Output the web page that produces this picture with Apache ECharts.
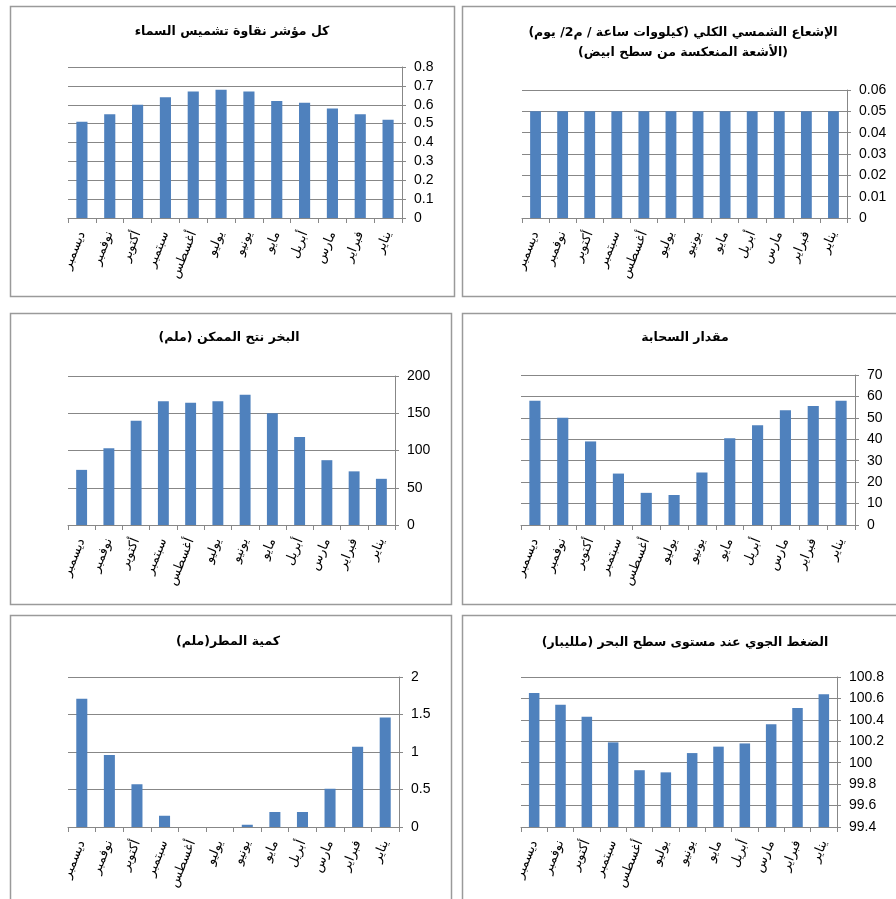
<!DOCTYPE html>
<html>
<head>
<meta charset="utf-8">
<script src="https://cdn.jsdelivr.net/npm/echarts@6/dist/echarts.min.js"></script>
<style>
  html, body { margin: 0; padding: 0; background: #ffffff; }
  #chart { width: 896px; height: 899px; }
</style>
</head>
<body>
<div id="chart" dir="rtl"></div>
<script>
// Months, January to December (drawn right-to-left)
const months = ['يناير', 'فبراير', 'مارس', 'أبريل', 'مايو', 'يونيو',
                'يوليو', 'أغسطس', 'سبتمبر', 'أكتوبر', 'نوفمبر', 'ديسمبر'];

// Monthly values, January to December
const skyClearness   = [0.52, 0.55, 0.58, 0.61, 0.62, 0.67, 0.68, 0.67, 0.64, 0.60, 0.55, 0.51];
const reflectedSolar = [0.05, 0.05, 0.05, 0.05, 0.05, 0.05, 0.05, 0.05, 0.05, 0.05, 0.05, 0.05];
const evapotranspiration = [62, 72, 87, 118, 150, 175, 166, 164, 166, 140, 103, 74];
const cloudCover     = [58, 55.5, 53.5, 46.5, 40.5, 24.5, 14, 15, 24, 39, 50, 58];
const rainfall       = [1.46, 1.07, 0.51, 0.2, 0.2, 0.03, 0, 0, 0.15, 0.57, 0.96, 1.71];
const seaPressure    = [100.64, 100.51, 100.36, 100.18, 100.15, 100.09, 99.91, 99.93, 100.19, 100.43, 100.54, 100.65];

// Chart titles
const titleSky = ['كل مؤشر نقاوة تشميس السماء'];
const titleSolar = ['الإشعاع الشمسي الكلي (كيلووات ساعة / م2/ يوم)', '(الأشعة المنعكسة من سطح ابيض)'];
const titleEvap = ['البخر نتح الممكن (ملم)'];
const titleCloud = ['مقدار السحابة'];
const titleRain = ['كمية المطر(ملم)'];
const titlePressure = ['الضغط الجوي عند مستوى سطح البحر (ملليبار)'];

// Value-axis ranges
const axisSky = { min: 0, max: 0.8, interval: 0.1 };
const axisSolar = { min: 0, max: 0.06, interval: 0.01 };
const axisEvap = { min: 0, max: 200, interval: 50 };
const axisCloud = { min: 0, max: 70, interval: 10 };
const axisRain = { min: 0, max: 2, interval: 0.5 };
const axisPressure = { min: 99.4, max: 100.8, interval: 0.2 };

const FONT = "'Liberation Sans', 'DejaVu Sans', sans-serif";
const GRID_COLOR = '#878787';
const BAR_COLOR = '#4F81BD';

// Layout of the six panels
const panels = [
  { title: titleSky, titleX: 232, titleY: 32, data: skyClearness, axis: axisSky,
    box: [10, 6, 444, 290], grid: { left: 68, top: 67, width: 334, height: 151 } },
  { title: titleSolar, titleX: 683, titleY: 33, data: reflectedSolar, axis: axisSolar,
    box: [462, 6, 446, 290], grid: { left: 522, top: 90, width: 325, height: 128 } },
  { title: titleEvap, titleX: 229, titleY: 338, data: evapotranspiration, axis: axisEvap,
    box: [10, 313, 441, 291], grid: { left: 68, top: 376, width: 327, height: 149 } },
  { title: titleCloud, titleX: 685, titleY: 338, data: cloudCover, axis: axisCloud,
    box: [462, 313, 446, 291], grid: { left: 521, top: 375, width: 334, height: 150 } },
  { title: titleRain, titleX: 228, titleY: 642, data: rainfall, axis: axisRain,
    box: [10, 615, 441, 300], grid: { left: 68, top: 677, width: 331, height: 150 } },
  { title: titlePressure, titleX: 685, titleY: 643, data: seaPressure, axis: axisPressure,
    box: [462, 615, 446, 300], grid: { left: 521, top: 677, width: 316, height: 150 } }
];

const grids = [], xAxes = [], yAxes = [], series = [], graphics = [];

panels.forEach((p, i) => {
  // panel frame
  graphics.push({
    type: 'rect', silent: true,
    shape: { x: p.box[0] + 0.5, y: p.box[1] + 0.5, width: p.box[2], height: p.box[3] },
    style: { fill: '#ffffff', stroke: '#9a9a9a', lineWidth: 1.5 },
    z: -10
  });
  // title lines
  p.title.forEach((line, k) => {
    graphics.push({
      type: 'text', silent: true,
      x: p.titleX, y: p.titleY + k * 20,
      style: {
        text: line, align: 'center', verticalAlign: 'middle',
        font: "bold 12.5px 'DejaVu Sans', sans-serif", fill: '#000000'
      }
    });
  });

  grids.push(Object.assign({ containLabel: false }, p.grid));

  xAxes.push({
    type: 'category', gridIndex: i, data: months, inverse: true,
    axisLine: { show: true, lineStyle: { color: GRID_COLOR, width: 1 } },
    axisTick: { show: true, interval: 0, length: 5, lineStyle: { color: GRID_COLOR } },
    axisLabel: {
      interval: 0, rotate: 68, margin: 14, color: '#000000',
      fontSize: 13, fontFamily: "'DejaVu Sans', sans-serif"
    },
    splitLine: { show: false }
  });

  yAxes.push({
    type: 'value', gridIndex: i, position: 'right',
    min: p.axis.min, max: p.axis.max, interval: p.axis.interval,
    startValue: p.axis.min,
    axisLine: { show: true, lineStyle: { color: GRID_COLOR, width: 1 } },
    axisTick: { show: true, length: 4, lineStyle: { color: GRID_COLOR } },
    axisLabel: { margin: 12, color: '#000000', fontSize: 14, fontFamily: FONT },
    splitLine: { show: true, lineStyle: { color: GRID_COLOR, width: 1 } }
  });

  series.push({
    type: 'bar', xAxisIndex: i, yAxisIndex: i, data: p.data,
    barWidth: '40%',
    itemStyle: { color: BAR_COLOR },
    silent: true
  });
});

const chart = echarts.init(document.getElementById('chart'), null, { renderer: 'canvas' });
chart.setOption({
  backgroundColor: '#ffffff',
  animation: false,
  textStyle: { fontFamily: FONT },
  grid: grids,
  xAxis: xAxes,
  yAxis: yAxes,
  series: series,
  graphic: { elements: graphics }
});
</script>
</body>
</html>
